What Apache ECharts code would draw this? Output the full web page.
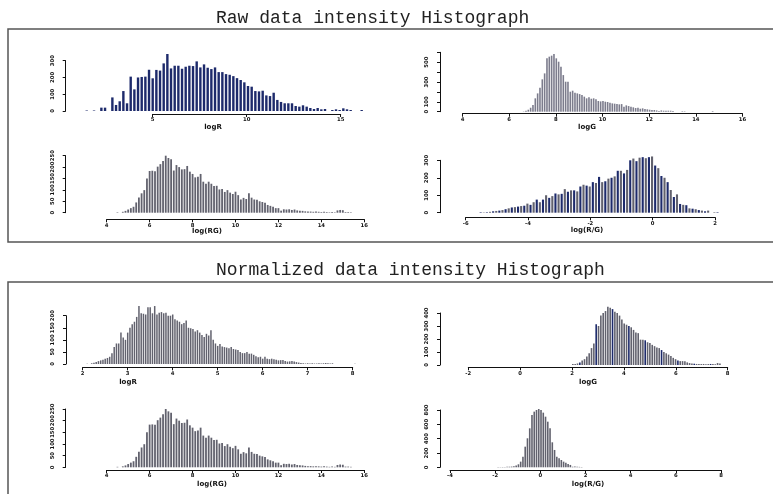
<!DOCTYPE html>
<html>
<head>
<meta charset="utf-8">
<title>Intensity Histograph</title>
<script src="https://cdn.jsdelivr.net/npm/echarts@6/dist/echarts.min.js"></script>
<style>
html, body { margin: 0; padding: 0; background: #fff; }
#chart { width: 773px; height: 494px; }
</style>
</head>
<body>
<div id="chart"></div>
<script>
// ---- raw data histograms (first bin centre, bin width, counts) ----
const rawLogRStart = 1.49, rawLogRWidth = 0.195;
const rawLogRCounts = [3, 0, 3, 0, 20, 20, 0, 81, 36, 58, 119, 46, 205, 129, 200, 203, 205, 246, 195, 245, 241, 284, 340, 254, 270, 270, 252, 264, 270, 268, 296, 260, 278, 258, 250, 260, 232, 232, 220, 216, 208, 196, 185, 171, 149, 145, 119, 117, 121, 93, 89, 109, 66, 54, 46, 46, 46, 30, 26, 34, 26, 18, 12, 18, 10, 12, 0, 6, 10, 6, 16, 10, 6, 0, 0, 6];
const rawLogRXTicks = [5, 10, 15];
const rawLogRYTicks = [0, 100, 200, 300];

const rawLogGStart = 6.62, rawLogGWidth = 0.1;
const rawLogGCounts = [3, 10, 20, 40, 67, 135, 185, 242, 327, 387, 539, 556, 566, 582, 539, 505, 455, 370, 303, 303, 202, 212, 192, 185, 178, 168, 152, 135, 145, 131, 135, 125, 108, 104, 108, 101, 98, 91, 84, 81, 77, 74, 77, 51, 64, 57, 51, 44, 37, 40, 30, 34, 27, 24, 20, 17, 17, 13, 7, 13, 10, 10, 10, 10, 7, 0, 0, 0, 5, 4, 0, 0, 0, 0, 0, 0, 0, 0, 0, 0, 0, 6];
const rawLogGXTicks = [4, 6, 8, 10, 12, 14, 16];
const rawLogGYTicks = [0, 100, 200, 300, 400, 500, 600];
const rawLogGYLabels = [0, 100, 300, 500];

const logRGStart = 4.5, logRGWidth = 0.125;
const logRGCounts = [2, 0, 4, 8, 14, 20, 26, 45, 67, 85, 99, 150, 183, 184, 182, 202, 213, 227, 250, 240, 234, 185, 209, 200, 190, 191, 205, 180, 170, 155, 158, 170, 136, 127, 136, 127, 117, 118, 102, 104, 91, 99, 88, 82, 92, 77, 58, 65, 60, 85, 66, 58, 57, 50, 47, 44, 34, 30, 26, 20, 20, 9, 15, 14, 15, 12, 14, 10, 9, 8, 6, 5, 5, 4, 5, 4, 3, 4, 3, 2, 3, 2, 10, 12, 11, 3, 3, 2];
const logRGXTicks = [4, 6, 8, 10, 12, 14, 16];
const logRGYTicks = [0, 50, 100, 150, 200, 250];

const rawRatioStart = -5.52, rawRatioWidth = 0.1;
const rawRatioCounts = [3, 2, 3, 5, 8, 10, 12, 15, 20, 25, 30, 32, 35, 38, 40, 52, 45, 60, 75, 60, 75, 100, 85, 95, 110, 105, 108, 135, 120, 128, 128, 122, 150, 160, 155, 150, 175, 170, 205, 175, 180, 195, 200, 208, 240, 240, 225, 245, 300, 310, 295, 315, 318, 312, 318, 322, 270, 255, 210, 200, 175, 130, 90, 105, 50, 45, 43, 25, 23, 20, 15, 12, 8, 12, 0, 3, 3];
const rawRatioXTicks = [-6, -4, -2, 0, 2];
const rawRatioYTicks = [0, 100, 200, 300];

// ---- normalized data histograms ----
const normLogRStart = 2.1, normLogRWidth = 0.05;
const normLogRCounts = [1, 0, 3, 5, 8, 12, 15, 18, 22, 25, 30, 44, 70, 85, 85, 130, 110, 100,
  130, 150, 165, 175, 195, 240, 210, 208, 205, 235, 235, 210, 240, 205, 212, 215, 210, 212, 200, 200, 205, 185, 180, 175, 165, 170, 180, 150, 148, 145, 135, 140, 130, 120, 112, 125, 118, 140, 100, 85,
  75, 83, 72, 70, 68, 65, 70, 62, 60, 58, 50, 45, 45, 50, 42, 43, 38, 32, 28, 30, 22, 30, 22, 20, 22, 20, 18, 15, 16, 17, 12, 10, 11, 12, 10, 8, 6, 4, 3, 2,
  3, 2, 3, 2, 2, 3, 2, 3, 4, 3, 2, 3, 0, 0, 0, 0, 0, 0, 0, 0, 0, 1];
const normLogRXTicks = [2, 3, 4, 5, 6, 7, 8];
const normLogRYTicks = [0, 50, 100, 150, 200];

const normLogGStart = 2.03, normLogGWidth = 0.09;
const normLogGCounts = [8, 8, 12, 20, 35, 45, 65, 90, 130, 165, 313, 300, 380, 400, 415, 449, 440, 430, 410, 400, 380, 350, 320, 310, 300, 290, 270, 250, 245, 195, 195, 190, 175, 170, 155, 145, 135, 130, 115, 100, 90, 80, 70, 55, 45, 35, 30, 30, 28, 20, 15, 12, 10, 8, 8, 7, 8, 6, 7, 8, 7, 6, 15, 12];
const normLogGXTicks = [-2, 0, 2, 4, 6, 8];
const normLogGYTicks = [0, 100, 200, 300, 400];

const normRatioStart = -1.97, normRatioWidth = 0.1;
const normRatioCounts = [2, 3, 3, 4, 5, 6, 8, 10, 15, 25, 42, 79, 149, 288, 405, 544, 730, 777, 800, 814, 800, 763, 707, 637, 544, 349, 242, 149, 126, 102, 79, 65, 47, 33, 8, 10, 8, 6, 4, 2];
const normRatioXTicks = [-4, -2, 0, 2, 4, 6, 8];
const normRatioYTicks = [0, 200, 400, 600, 800];

// ---- layout of the eight plots (pixels) ----
const NAVY = '#1d2a6b', GRAY = '#62626e';
const panels = [
  { counts: rawLogRCounts, start: rawLogRStart, width: rawLogRWidth, xt: rawLogRXTicks, yt: rawLogRYTicks, name: 'logR',
    x0: 152.7, x1: 340.7, yBase: 111, yTop: 60.7, yAxisX: 65.7, xAxisY: 114, bar: 2.4, nx: 213, ny: 127, color: () => NAVY },
  { counts: rawLogGCounts, start: rawLogGStart, width: rawLogGWidth, xt: rawLogGXTicks, yt: rawLogGYTicks, yl: rawLogGYLabels, name: 'logG',
    x0: 462.5, x1: 742.5, yBase: 111.7, yTop: 52.3, yAxisX: 440, xAxisY: 113.7, bar: 1.6, nx: 587, ny: 127, color: () => '#7c7c8c' },
  { counts: logRGCounts, start: logRGStart, width: logRGWidth, xt: logRGXTicks, yt: logRGYTicks, name: 'log(RG)',
    x0: 106.7, x1: 364.3, yBase: 212.7, yTop: 155.7, yAxisX: 65.7, xAxisY: 219.3, bar: 1.8, nx: 207, ny: 231, color: () => GRAY },
  { counts: rawRatioCounts, start: rawRatioStart, width: rawRatioWidth, xt: rawRatioXTicks, yt: rawRatioYTicks, name: 'log(R/G)',
    x0: 465.7, x1: 715, yBase: 212.7, yTop: 160.3, yAxisX: 440, xAxisY: 217.3, bar: 2.1, nx: 587, ny: 230, color: p => (p.dataIndex % 2 ? GRAY : NAVY) },
  { counts: normLogRCounts, start: normLogRStart, width: normLogRWidth, xt: normLogRXTicks, yt: normLogRYTicks, name: 'logR',
    x0: 82.7, x1: 352.7, yBase: 364, yTop: 315.7, yAxisX: 66, xAxisY: 367.3, bar: 1.5, nx: 128, ny: 382, color: () => GRAY },
  { counts: normLogGCounts, start: normLogGStart, width: normLogGWidth, xt: normLogGXTicks, yt: normLogGYTicks, name: 'logG',
    x0: 468.3, x1: 727.7, yBase: 365, yTop: 313, yAxisX: 440, xAxisY: 367.3, bar: 1.6, nx: 588, ny: 382, color: p => (p.dataIndex % 7 === 3 ? NAVY : GRAY) },
  { counts: logRGCounts, start: logRGStart, width: logRGWidth, xt: logRGXTicks, yt: logRGYTicks, name: 'log(RG)',
    x0: 106.7, x1: 364.3, yBase: 467.3, yTop: 409, yAxisX: 65.7, xAxisY: 470, bar: 1.8, nx: 212, ny: 484, color: () => GRAY },
  { counts: normRatioCounts, start: normRatioStart, width: normRatioWidth, xt: normRatioXTicks, yt: normRatioYTicks, name: 'log(R/G)',
    x0: 450, x1: 721, yBase: 467.3, yTop: 410, yAxisX: 440, xAxisY: 470, bar: 1.6, nx: 588, ny: 484, color: () => GRAY }
];

const tickFont = { fontSize: 5.3, color: '#111', fontFamily: 'DejaVu Sans', fontWeight: 'bold' };
const axisLine = { show: true, onZero: false, lineStyle: { color: '#111', width: 1 } };

const grids = [], xAxes = [], yAxes = [], series = [], graphics = [];
panels.forEach(function (p, i) {
  grids.push({
    left: p.x0, top: p.yTop, width: p.x1 - p.x0, height: p.yBase - p.yTop,
    containLabel: false, outerBoundsMode: 'none'
  });
  xAxes.push({
    type: 'value', gridIndex: i, position: 'bottom', offset: p.xAxisY - p.yBase,
    min: p.xt[0], max: p.xt[p.xt.length - 1], interval: p.xt[1] - p.xt[0],
    axisLine: axisLine, axisTick: { show: true, length: 3, lineStyle: { color: '#111' } },
    axisLabel: Object.assign({ margin: 3.5, showMinLabel: true, showMaxLabel: true }, tickFont),
    splitLine: { show: false }
  });
  yAxes.push({
    type: 'value', gridIndex: i, position: 'left', offset: p.x0 - p.yAxisX,
    min: p.yt[0], max: p.yt[p.yt.length - 1], interval: p.yt[1] - p.yt[0],
    axisLine: axisLine, axisTick: { show: true, length: 3, lineStyle: { color: '#111' } },
    axisLabel: Object.assign({
      rotate: 90, margin: 11, showMinLabel: true, showMaxLabel: true,
      formatter: function (v) { return (!p.yl || p.yl.indexOf(v) >= 0) ? String(v) : ''; }
    }, tickFont),
    splitLine: { show: false }
  });
  series.push({
    type: 'bar', xAxisIndex: i, yAxisIndex: i, barWidth: p.bar, clip: false, silent: true,
    itemStyle: { color: p.color },
    data: p.counts.map(function (c, k) { return [p.start + k * p.width, c]; })
  });
  graphics.push({
    type: 'text', silent: true,
    style: { x: p.nx, y: p.ny, text: p.name, align: 'center', verticalAlign: 'middle',
      font: 'bold 7px "DejaVu Sans"', fill: '#111' }
  });
});

graphics.push(
  { type: 'rect', silent: true, shape: { x: 8, y: 29, width: 790, height: 213 },
    style: { fill: 'none', stroke: '#555', lineWidth: 1.5 } },
  { type: 'rect', silent: true, shape: { x: 8, y: 282, width: 790, height: 240 },
    style: { fill: 'none', stroke: '#555', lineWidth: 1.5 } },
  { type: 'text', silent: true,
    style: { x: 216, y: 18, text: 'Raw data intensity Histograph', verticalAlign: 'middle',
      font: '18px "Liberation Mono"', fill: '#222' } },
  { type: 'text', silent: true,
    style: { x: 216, y: 270, text: 'Normalized data intensity Histograph', verticalAlign: 'middle',
      font: '18px "Liberation Mono"', fill: '#222' } }
);

const chart = echarts.init(document.getElementById('chart'));
chart.setOption({
  backgroundColor: '#fff',
  animation: false,
  grid: grids,
  xAxis: xAxes,
  yAxis: yAxes,
  series: series,
  graphic: graphics
});
</script>
</body>
</html>
